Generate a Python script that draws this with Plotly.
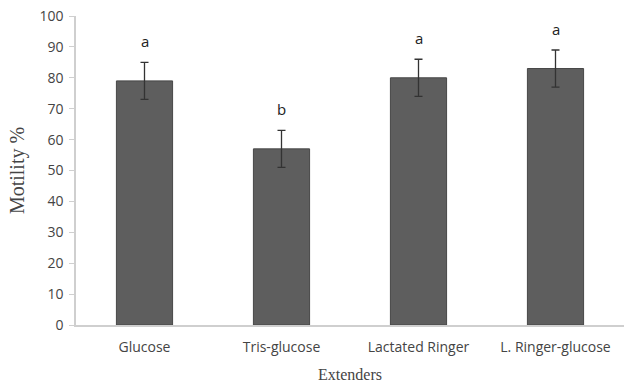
import plotly.graph_objects as go

# Sperm motility by extender type
extenders = ["Glucose", "Tris-glucose", "Lactated Ringer", "L. Ringer-glucose"]
motility = [79, 57, 80, 83]
sd = [6, 6, 6, 6]
groups = ["a", "b", "a", "a"]
y_ticks = [0, 10, 20, 30, 40, 50, 60, 70, 80, 90, 100]

fig = go.Figure()
fig.add_trace(go.Bar(
    x=extenders,
    y=motility,
    marker=dict(color="#5e5e5e", line=dict(color="#474747", width=1)),
    error_y=dict(type="data", array=sd, visible=True, color="#333333",
                 thickness=1.3, width=4),
    width=0.41,
    showlegend=False,
))

# significance letters above the error bars
for cat, val, err, g in zip(extenders, motility, sd, groups):
    fig.add_annotation(x=cat, y=val + err, text=g, showarrow=False,
                       yshift=21, font=dict(family="Open Sans, Arial", size=15,
                                            color="#222222"))

fig.update_layout(
    width=636, height=385,
    margin=dict(l=76, r=12, t=16, b=60),
    paper_bgcolor="white", plot_bgcolor="white",
    font=dict(family="Open Sans, Arial", color="#444444"),
)
fig.update_yaxes(
    range=[0, 100], tickvals=y_ticks, showgrid=False, zeroline=False,
    showline=True, linecolor="#cfcfcf", linewidth=1.5, automargin=False,
    ticks="outside", ticklen=5, tickcolor="#cfcfcf",
    tickfont=dict(size=14, color="#444444"), ticklabelstandoff=3,
    title=dict(text="Motility %", standoff=9,
               font=dict(family="Liberation Serif, Times New Roman", size=20,
                         color="#444444")),
)
fig.update_xaxes(
    showgrid=False, showline=True, linecolor="#cfcfcf", linewidth=1.5,
    automargin=False,
    ticks="", tickfont=dict(size=14, color="#444444"), ticklabelstandoff=8,
    title=dict(text="Extenders", standoff=14,
               font=dict(family="Liberation Serif, Times New Roman", size=16,
                         color="#444444")),
)

fig.write_html("out.html")
